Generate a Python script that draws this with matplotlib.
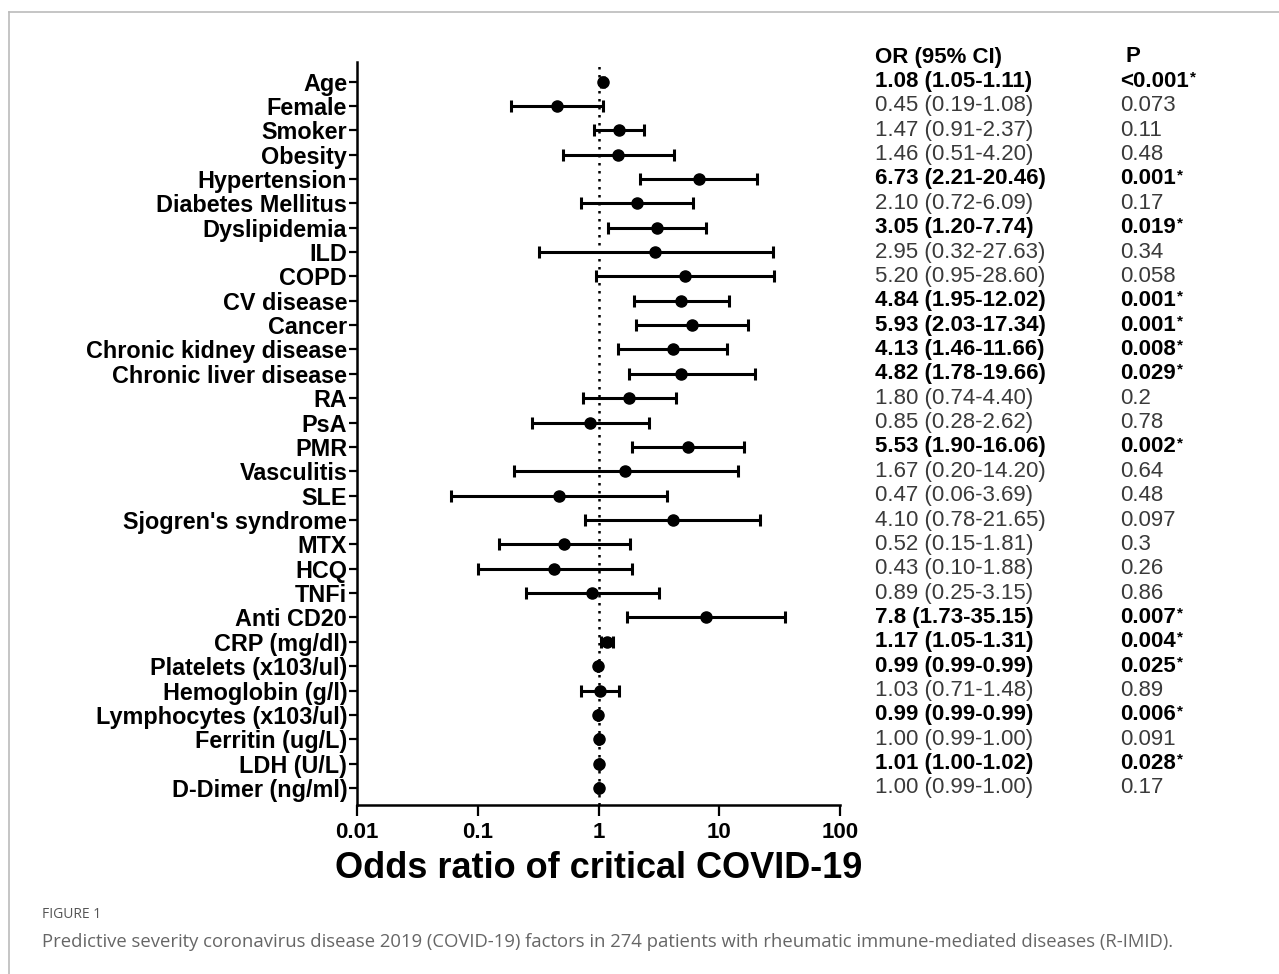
import matplotlib.pyplot as plt
from matplotlib.lines import Line2D
from matplotlib.ticker import FixedLocator, FixedFormatter, NullLocator

factors = ["Age", "Female", "Smoker", "Obesity", "Hypertension", "Diabetes Mellitus",
           "Dyslipidemia", "ILD", "COPD", "CV disease", "Cancer", "Chronic kidney disease",
           "Chronic liver disease", "RA", "PsA", "PMR", "Vasculitis", "SLE",
           "Sjogren's syndrome", "MTX", "HCQ", "TNFi", "Anti CD20", "CRP (mg/dl)",
           "Platelets (x103/ul)", "Hemoglobin (g/l)", "Lymphocytes (x103/ul)",
           "Ferritin (ug/L)", "LDH (U/L)", "D-Dimer (ng/ml)"]
odds = [1.08, 0.45, 1.47, 1.46, 6.73, 2.10, 3.05, 2.95, 5.20, 4.84, 5.93, 4.13, 4.82,
        1.80, 0.85, 5.53, 1.67, 0.47, 4.10, 0.52, 0.43, 0.89, 7.8, 1.17, 0.99, 1.03,
        0.99, 1.00, 1.01, 1.00]
ci_low = [1.05, 0.19, 0.91, 0.51, 2.21, 0.72, 1.20, 0.32, 0.95, 1.95, 2.03, 1.46, 1.78,
          0.74, 0.28, 1.90, 0.20, 0.06, 0.78, 0.15, 0.10, 0.25, 1.73, 1.05, 0.99, 0.71,
          0.99, 0.99, 1.00, 0.99]
ci_high = [1.11, 1.08, 2.37, 4.20, 20.46, 6.09, 7.74, 27.63, 28.60, 12.02, 17.34, 11.66,
           19.66, 4.40, 2.62, 16.06, 14.20, 3.69, 21.65, 1.81, 1.88, 3.15, 35.15, 1.31,
           0.99, 1.48, 0.99, 1.00, 1.02, 1.00]
or_text = ["1.08 (1.05-1.11)", "0.45 (0.19-1.08)", "1.47 (0.91-2.37)", "1.46 (0.51-4.20)",
           "6.73 (2.21-20.46)", "2.10 (0.72-6.09)", "3.05 (1.20-7.74)", "2.95 (0.32-27.63)",
           "5.20 (0.95-28.60)", "4.84 (1.95-12.02)", "5.93 (2.03-17.34)", "4.13 (1.46-11.66)",
           "4.82 (1.78-19.66)", "1.80 (0.74-4.40)", "0.85 (0.28-2.62)", "5.53 (1.90-16.06)",
           "1.67 (0.20-14.20)", "0.47 (0.06-3.69)", "4.10 (0.78-21.65)", "0.52 (0.15-1.81)",
           "0.43 (0.10-1.88)", "0.89 (0.25-3.15)", "7.8 (1.73-35.15)", "1.17 (1.05-1.31)",
           "0.99 (0.99-0.99)", "1.03 (0.71-1.48)", "0.99 (0.99-0.99)", "1.00 (0.99-1.00)",
           "1.01 (1.00-1.02)", "1.00 (0.99-1.00)"]
p_text = ["<0.001*", "0.073", "0.11", "0.48", "0.001*", "0.17", "0.019*", "0.34", "0.058",
          "0.001*", "0.001*", "0.008*", "0.029*", "0.2", "0.78", "0.002*", "0.64", "0.48",
          "0.097", "0.3", "0.26", "0.86", "0.007*", "0.004*", "0.025*", "0.89", "0.006*",
          "0.091", "0.028*", "0.17"]
significant = [p.endswith("*") for p in p_text]
x_ticks = [0.01, 0.1, 1, 10, 100]
x_tick_labels = ["0.01", "0.1", "1", "10", "100"]

plt.rcParams['font.family'] = ['Liberation Sans', 'DejaVu Sans']

fig = plt.figure(figsize=(12.79, 9.74), dpi=100)
ax = fig.add_axes([0.2791, 0.1735, 0.3777, 0.7628])

rows = list(range(len(factors)))
err_lo = [o - l for o, l in zip(odds, ci_low)]
err_hi = [h - o for o, h in zip(odds, ci_high)]

ax.axvline(1, color="black", linestyle=(0, (1, 2.2)), lw=1.8, zorder=1)
ax.errorbar(odds, rows, xerr=[err_lo, err_hi], fmt="o", color="black", ms=8,
            elinewidth=2.2, capsize=4.5, capthick=2.2, zorder=3)

ax.set_xscale("log")
ax.set_xlim(0.01, 100)
ax.set_ylim(len(factors) - 0.3, -0.8)
ax.xaxis.set_major_locator(FixedLocator(x_ticks))
ax.xaxis.set_major_formatter(FixedFormatter(x_tick_labels))
ax.xaxis.set_minor_locator(NullLocator())
ax.set_yticks(rows)
ax.set_yticklabels(factors, fontsize=16.8, fontweight="bold")
for lab in ax.get_xticklabels():
    lab.set_fontsize(16)
    lab.set_fontweight("bold")
ax.tick_params(axis="y", length=6, width=1.6, pad=1)
ax.tick_params(axis="x", length=8, width=1.6, pad=4)
for s in ["top", "right"]:
    ax.spines[s].set_visible(False)
for s in ["left", "bottom"]:
    ax.spines[s].set_linewidth(1.8)
ax.set_xlabel("Odds ratio of critical COVID-19", fontsize=26, fontweight="bold", labelpad=6)

# table columns to the right of the plot
x_or = 875 / 1279
x_p = 1120 / 1279
fig.text(x_or, 1 - 57 / 974, "OR (95% CI)", fontsize=16, fontweight="bold", va="center")
fig.text(x_p + 0.004, 1 - 57 / 974, "P", fontsize=16, fontweight="bold", va="center")
for r, t, p, sig in zip(rows, or_text, p_text, significant):
    y_fig = fig.transFigure.inverted().transform(ax.transData.transform((1, r)))[1]
    col = "black" if sig else "#3a3a3a"
    w = "bold" if sig else "normal"
    fig.text(x_or, y_fig, t, fontsize=16, fontweight=w, color=col, va="center")
    if sig:
        p = p.rstrip("*")
        txt = fig.text(x_p, y_fig, p, fontsize=16, fontweight=w, color=col, va="center")
        fig.canvas.draw()
        bb = txt.get_window_extent()
        fig.text((bb.x1 + 1) / fig.bbox.width, y_fig + 0.004, "*", fontsize=11,
                 fontweight="bold", color=col, va="center")
    else:
        fig.text(x_p, y_fig, p, fontsize=16, fontweight=w, color=col, va="center")

# caption
fig.text(42 / 1279, 1 - 915 / 974, "FIGURE 1", fontsize=10, color="#555555",
         family=["Open Sans", "DejaVu Sans"], va="center")
fig.text(42 / 1279, 1 - 942 / 974,
         "Predictive severity coronavirus disease 2019 (COVID-19) factors in 274 patients "
         "with rheumatic immune-mediated diseases (R-IMID).",
         fontsize=13.3, color="#666666", family=["Open Sans", "DejaVu Sans"], va="center")

# frame lines
fig.add_artist(Line2D([9 / 1279, 1], [1 - 12 / 974, 1 - 12 / 974], color="#bbbbbb", lw=1.2))
fig.add_artist(Line2D([9 / 1279, 9 / 1279], [0, 1 - 12 / 974], color="#bbbbbb", lw=1.2))

fig.savefig("out.png", dpi=100)
